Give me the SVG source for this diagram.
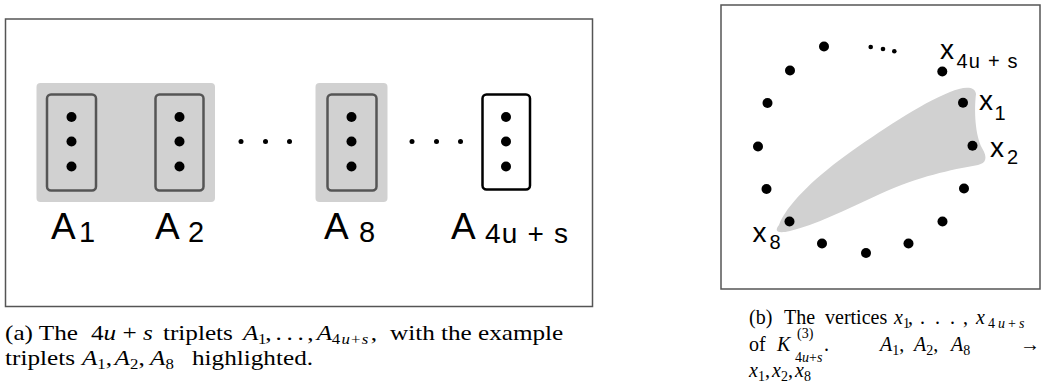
<svg xmlns="http://www.w3.org/2000/svg" width="1041" height="389" viewBox="0 0 1041 389">
  <style>
    .frame { fill: #ffffff; stroke: #555555; stroke-width: 1.5; }
    .hl { fill: #d1d1d1; }
    .box { fill: none; stroke: #555555; stroke-width: 2.5; }
    .box-plain { fill: #ffffff; stroke: #000000; stroke-width: 2.5; }
    .dot { fill: #000000; }
    .lbl { font-family: "Liberation Sans", Arial, sans-serif; fill: #000000; }
    .cap { font-family: "Liberation Serif", "Times New Roman", serif; font-size: 20px; fill: #000000; }
    .cap-a { font-size: 21px; }
    .m { font-style: italic; }
    .sub { font-size: 14px; }
  </style>
  <defs>
    <circle id="bigdot" r="5" class="dot"/>
    <circle id="smalldot" r="2.5" class="dot"/>
  </defs>

  <rect width="1041" height="389" fill="#ffffff"/>

  <!-- panel (a): triplets -->
  <rect class="frame" x="5.5" y="19" width="587" height="287.5"/>
  <rect class="hl" x="36.5" y="83" width="178.5" height="119" rx="4"/>
  <rect class="hl" x="315.5" y="83" width="72" height="119" rx="4"/>

  <g id="triplet-A1">
    <rect class="box" x="47" y="94.5" width="49" height="96" rx="4"/>
    <use href="#bigdot" x="71.5" y="117"/>
    <use href="#bigdot" x="71.5" y="141.5"/>
    <use href="#bigdot" x="71.5" y="166.5"/>
    <text class="lbl" y="239"><tspan x="51" font-size="37">A</tspan><tspan x="79" y="242" font-size="29">1</tspan></text>
  </g>

  <g id="triplet-A2">
    <rect class="box" x="155.5" y="94.5" width="48" height="96" rx="4"/>
    <use href="#bigdot" x="179.5" y="117"/>
    <use href="#bigdot" x="179.5" y="141.5"/>
    <use href="#bigdot" x="179.5" y="166.5"/>
    <text class="lbl" y="239"><tspan x="155" font-size="37">A</tspan><tspan x="188" y="242" font-size="29">2</tspan></text>
  </g>

  <g id="ellipsis-1">
    <use href="#smalldot" x="241" y="141.5"/>
    <use href="#smalldot" x="265.5" y="141.5"/>
    <use href="#smalldot" x="289.5" y="141.5"/>
  </g>

  <g id="triplet-A8">
    <rect class="box" x="327.5" y="94.5" width="49" height="96" rx="4"/>
    <use href="#bigdot" x="351.5" y="117"/>
    <use href="#bigdot" x="351.5" y="141.5"/>
    <use href="#bigdot" x="351.5" y="166.5"/>
    <text class="lbl" y="239"><tspan x="324" font-size="37">A</tspan><tspan x="359" y="242" font-size="29">8</tspan></text>
  </g>

  <g id="ellipsis-2">
    <use href="#smalldot" x="412" y="141.5"/>
    <use href="#smalldot" x="436.5" y="141.5"/>
    <use href="#smalldot" x="460.5" y="141.5"/>
  </g>

  <g id="triplet-A4u-s">
    <rect class="box-plain" x="482.5" y="94.5" width="47.5" height="95" rx="4"/>
    <use href="#bigdot" x="506" y="117"/>
    <use href="#bigdot" x="506" y="141.5"/>
    <use href="#bigdot" x="506" y="166.5"/>
    <text class="lbl" y="239"><tspan x="451" font-size="37">A</tspan><tspan x="485" y="243" font-size="28" textLength="83">4u + s</tspan></text>
  </g>

  <!-- panel (b): vertices of the hypergraph -->
  <rect class="frame" x="721" y="5" width="319" height="284"/>

  <g id="edge-x1-x2-x8">
    <path class="hl" d="M 779,225 C 786,206 812,180 845,156 C 880,131 920,104 950,92 C 962,87 975,85 976,94 C 974,110 975,135 982,148 C 988,158 986,163 978,165 C 950,170 920,176 880,194 C 845,210 815,225 790,231 C 777,234 774,231 779,225 Z"/>
  </g>

  <g id="vertices">
    <use href="#bigdot" x="824" y="46.5"/>
    <use href="#bigdot" x="790" y="70.5"/>
    <use href="#bigdot" x="767.5" y="103"/>
    <use href="#bigdot" x="758" y="146.5"/>
    <use href="#bigdot" x="766.5" y="189"/>
    <use href="#bigdot" x="789.5" y="221.5"/>
    <use href="#bigdot" x="822" y="243.5"/>
    <use href="#bigdot" x="866" y="253"/>
    <use href="#bigdot" x="908.5" y="243.5"/>
    <use href="#bigdot" x="942.5" y="221.5"/>
    <use href="#bigdot" x="964" y="188.5"/>
    <use href="#bigdot" x="972.5" y="145.7"/>
    <use href="#bigdot" x="963" y="102.7"/>
    <use href="#bigdot" x="942.3" y="71.5"/>
    <circle class="dot" cx="870.7" cy="47" r="2.3"/>
    <circle class="dot" cx="883" cy="49" r="2.3"/>
    <circle class="dot" cx="894.3" cy="51.3" r="2.3"/>
  </g>

  <g id="vertex-labels">
    <text class="lbl"><tspan x="940" y="58.5" font-size="28">x</tspan><tspan x="956.5" y="68.3" font-size="20" textLength="61">4u + s</tspan></text>
    <text class="lbl"><tspan x="979" y="110" font-size="28">x</tspan><tspan x="994.5" y="119.5" font-size="20">1</tspan></text>
    <text class="lbl"><tspan x="990" y="157" font-size="28">x</tspan><tspan x="1007" y="163.5" font-size="20">2</tspan></text>
    <text class="lbl"><tspan x="752.5" y="241.7" font-size="28">x</tspan><tspan x="769.5" y="248.5" font-size="20">8</tspan></text>
  </g>

  <!-- captions; panel (a) caption is set 1.2x wide, so its x values are divided by 1.2 -->
  <g id="caption-a" transform="scale(1.2,1)">
    <text class="cap cap-a" y="340"><tspan x="4.2">(a) The</tspan><tspan x="75.8">4<tspan class="m">u</tspan> + <tspan class="m">s</tspan></tspan><tspan x="135.8">triplets</tspan><tspan x="202.5" class="m">A</tspan><tspan class="sub" x="215" y="344">1</tspan><tspan x="221" y="340">,</tspan><tspan x="229.5">.</tspan><tspan x="238.7">.</tspan><tspan x="247.9">.</tspan><tspan x="256">,</tspan><tspan x="264" class="m">A</tspan><tspan class="sub" x="276.5" y="344" letter-spacing="1">4<tspan class="m">u</tspan>+<tspan class="m">s</tspan></tspan><tspan x="309" y="340">,</tspan><tspan x="325">with</tspan><tspan x="367.5">the</tspan><tspan x="398.3">example</tspan></text>
    <text class="cap cap-a" y="365"><tspan x="4.2">triplets</tspan><tspan x="68.3" class="m">A</tspan><tspan class="sub" y="369">1</tspan><tspan y="365">,</tspan><tspan x="95.5" class="m">A</tspan><tspan class="sub" y="369">2</tspan><tspan y="365">,</tspan><tspan x="125" class="m">A</tspan><tspan class="sub" y="369">8</tspan><tspan x="160" y="365">highlighted.</tspan></text>
  </g>

  <g id="caption-b">
    <text class="cap" y="324"><tspan x="749">(b)</tspan><tspan x="784">The</tspan><tspan x="825">vertices</tspan><tspan x="894" class="m">x</tspan><tspan class="sub" y="328">1</tspan><tspan x="908" y="324">,</tspan><tspan x="920">.</tspan><tspan x="935">.</tspan><tspan x="950">.</tspan><tspan x="963">,</tspan><tspan x="976" class="m">x</tspan><tspan class="sub" x="988" y="328" font-size="15" letter-spacing="3">4<tspan class="m">u</tspan>+<tspan class="m">s</tspan></tspan></text>
    <text class="cap" y="351"><tspan x="749">of</tspan><tspan x="777" class="m">K</tspan><tspan class="sub" x="797" y="338">(3)</tspan><tspan class="sub" x="795" y="362">4<tspan class="m">u</tspan>+<tspan class="m">s</tspan></tspan><tspan x="824" y="351">.</tspan><tspan x="880" class="m">A</tspan><tspan class="sub" y="355">1</tspan><tspan y="351">,</tspan><tspan x="914" class="m">A</tspan><tspan class="sub" y="355">2</tspan><tspan y="351">,</tspan><tspan x="951" class="m">A</tspan><tspan class="sub" y="355">8</tspan><tspan x="1020" y="351">→</tspan></text>
    <text class="cap" y="377"><tspan x="749" class="m">x</tspan><tspan class="sub" y="381">1</tspan><tspan y="377">,</tspan><tspan x="772" class="m">x</tspan><tspan class="sub" y="381">2</tspan><tspan y="377">,</tspan><tspan x="795" class="m">x</tspan><tspan class="sub" y="381">8</tspan></text>
  </g>
</svg>
